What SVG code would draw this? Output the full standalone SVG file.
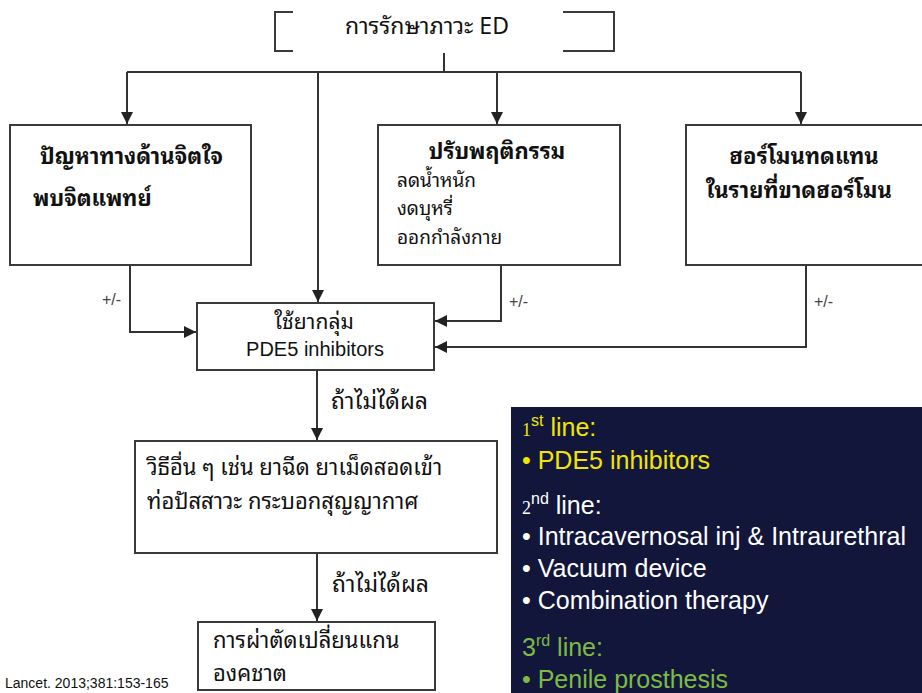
<svg xmlns="http://www.w3.org/2000/svg" width="922" height="693" viewBox="0 0 922 693">
<style>
.box{fill:#fff;stroke:#3a3a3a;stroke-width:2}
.c{fill:none;stroke:#333;stroke-width:2}
.th{font-family:"Noto Sans Thai Looped","Noto Sans Thai","Noto Sans","Liberation Sans",sans-serif;fill:#111}
.b{font-weight:bold}
.lat{font-family:"Liberation Sans",Arial,sans-serif;fill:#111}
.pm{font-family:"Liberation Sans",Arial,sans-serif;font-size:16px;fill:#444}
.pt{font-family:"Liberation Sans",Arial,sans-serif;font-size:25px}
.y{fill:#f2e600}.w{fill:#ffffff}.g{fill:#7dbb45}
</style>
<defs>
<marker id="ah" viewBox="0 0 10 10" refX="10" refY="5" markerWidth="6" markerHeight="6" orient="auto" markerUnits="strokeWidth">
<path d="M0,0 L10,5 L0,10 z" fill="#222"/>
</marker>
</defs>
<rect width="922" height="693" fill="#fff"/>

<g id="connectors">
<path class="c" d="M444,51 V72 M127,72 H801"/>
<path class="c" d="M127,72 V124" marker-end="url(#ah)"/>
<path class="c" d="M497,72 V124" marker-end="url(#ah)"/>
<path class="c" d="M801,72 V124" marker-end="url(#ah)"/>
<path class="c" d="M318,72 V302" marker-end="url(#ah)"/>
<path class="c" d="M130,265 V332 H196" marker-end="url(#ah)"/>
<path class="c" d="M501,265 V321 H435" marker-end="url(#ah)"/>
<path class="c" d="M806,265 V347 H435" marker-end="url(#ah)"/>
<path class="c" d="M317,370 V440" marker-end="url(#ah)"/>
<path class="c" d="M317,553 V621" marker-end="url(#ah)"/>
<text class="pm" x="102" y="305">+/-</text>
<text class="pm" x="509" y="307">+/-</text>
<text class="pm" x="814" y="307">+/-</text>
<text class="th" x="331" y="409" font-size="23">ถ้าไม่ได้ผล</text>
<text class="th" x="332" y="592" font-size="23">ถ้าไม่ได้ผล</text>
</g>

<g id="n-title">
<rect class="box" x="275" y="12" width="339" height="39"/>
<rect x="293" y="9" width="270" height="44" fill="#fff"/>
<text class="th" x="427" y="34" font-size="23" text-anchor="middle">การรักษาภาวะ ED</text>
</g>

<g id="n-psych">
<rect class="box" x="10" y="125" width="241" height="140"/>
<text class="th b" x="40" y="164" font-size="22">ปัญหาทางด้านจิตใจ</text>
<text class="th b" x="33" y="206" font-size="22">พบจิตแพทย์</text>
</g>

<g id="n-behav">
<rect class="box" x="378" y="125" width="242" height="140"/>
<text class="th b" x="497" y="159" font-size="22" text-anchor="middle">ปรับพฤติกรรม</text>
<text class="th" x="397" y="187" font-size="19">ลดน้ำหนัก</text>
<text class="th" x="397" y="215" font-size="19">งดบุหรี่</text>
<text class="th" x="397" y="244" font-size="19">ออกกำลังกาย</text>
</g>

<g id="n-hormone">
<rect class="box" x="686" y="125" width="240" height="140"/>
<text class="th b" x="804" y="164" font-size="22" text-anchor="middle">ฮอร์โมนทดแทน</text>
<text class="th b" x="799" y="198" font-size="22" text-anchor="middle">ในรายที่ขาดฮอร์โมน</text>
</g>

<g id="n-pde5">
<rect class="box" x="197" y="303" width="237" height="67"/>
<text class="th" x="314" y="329" font-size="21" text-anchor="middle">ใช้ยากลุ่ม</text>
<text class="lat" x="315" y="356" font-size="20" text-anchor="middle">PDE5 inhibitors</text>
</g>

<g id="n-other">
<rect class="box" x="135" y="441" width="362" height="112"/>
<text class="th" x="147" y="475" font-size="22">วิธีอื่น ๆ เช่น ยาฉีด ยาเม็ดสอดเข้า</text>
<text class="th" x="147" y="509" font-size="22">ท่อปัสสาวะ กระบอกสุญญากาศ</text>
</g>

<g id="n-surgery">
<rect class="box" x="198" y="622" width="237" height="68"/>
<text class="th" x="213" y="648" font-size="22">การผ่าตัดเปลี่ยนแกน</text>
<text class="th" x="213" y="681" font-size="22">องคชาต</text>
</g>

<text class="lat" x="5" y="688" font-size="14" fill="#222">Lancet. 2013;381:153-165</text>

<g id="panel">
<rect x="511" y="407" width="411" height="286" fill="#12163a"/>
<text class="pt y" x="522" y="436"><tspan font-family="Liberation Serif,serif" font-size="18">1</tspan><tspan font-size="16" dy="-10">st</tspan><tspan dy="10"> line:</tspan></text>
<text class="pt y" x="522" y="469">• PDE5 inhibitors</text>
<text class="pt w" x="522" y="514" font-size="22"><tspan font-family="Liberation Serif,serif" font-size="18">2</tspan><tspan font-size="16" dy="-10">nd</tspan><tspan dy="10"> line:</tspan></text>
<text class="pt w" x="522" y="545">• Intracavernosal inj &amp; Intraurethral</text>
<text class="pt w" x="522" y="577">• Vacuum device</text>
<text class="pt w" x="522" y="609">• Combination therapy</text>
<text class="pt g" x="522" y="656" font-size="23">3<tspan font-size="16" dy="-10">rd</tspan><tspan dy="10"> line:</tspan></text>
<text class="pt g" x="522" y="688">• Penile prosthesis</text>
</g>
</svg>
